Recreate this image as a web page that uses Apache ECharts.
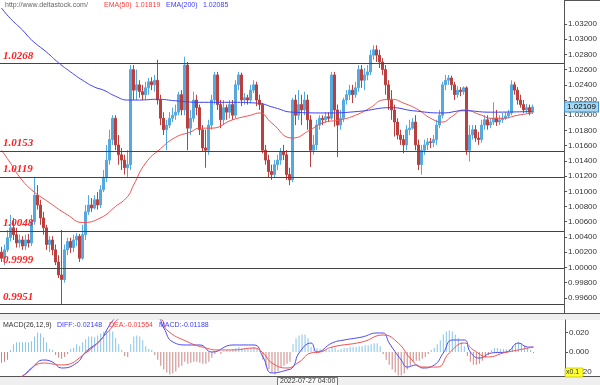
<!DOCTYPE html>
<html>
<head>
<meta charset="utf-8">
<script src="https://cdn.jsdelivr.net/npm/echarts@6/dist/echarts.min.js"></script>
<style>
html,body{margin:0;padding:0;background:#fff;}
#chart{width:600px;height:385px;}
</style>
</head>
<body>
<div id="chart"></div>
<script>
// ---- data ----
const slotCount = 188; // visible bar slots (data + right shift space)
const categories = Array.from({length: slotCount}, (_, i) => String(i));
// [open, close, low, high]
const candles = [
[1.0020,1.0012,1.0007,1.0027],[1.0012,1.0023,1.0003,1.0030],[1.0023,1.0039,1.0020,1.0049],[1.0039,1.0052,1.0034,1.0069],
[1.0052,1.0043,1.0036,1.0065],[1.0043,1.0032,1.0026,1.0052],[1.0032,1.0036,1.0026,1.0043],[1.0036,1.0028,1.0023,1.0041],
[1.0028,1.0036,1.0023,1.0043],[1.0036,1.0032,1.0026,1.0044],
[1.0032,1.0060,1.0028,1.0069],[1.0060,1.0095,1.0056,1.0119],[1.0095,1.0082,1.0076,1.0108],[1.0082,1.0065,1.0056,1.0089],
[1.0065,1.0052,1.0043,1.0073],[1.0052,1.0030,1.0023,1.0056],[1.0030,1.0036,1.0020,1.0041],[1.0036,1.0023,1.0016,1.0041],
[1.0023,1.0007,1.0003,1.0030],[1.0007,0.9990,0.9986,1.0016],
[0.9990,0.9984,0.9951,1.0049],[0.9984,1.0023,0.9980,1.0030],[1.0023,1.0034,1.0016,1.0039],[1.0034,1.0026,1.0019,1.0039],
[1.0026,1.0036,1.0020,1.0043],[1.0036,1.0041,1.0028,1.0045],[1.0041,1.0012,1.0007,1.0044],[1.0012,1.0043,1.0010,1.0056],
[1.0043,1.0073,1.0036,1.0082],[1.0073,1.0082,1.0069,1.0095],
[1.0082,1.0078,1.0073,1.0091],[1.0078,1.0089,1.0076,1.0095],[1.0089,1.0082,1.0076,1.0099],[1.0082,1.0102,1.0078,1.0108],
[1.0102,1.0118,1.0099,1.0128],[1.0118,1.0141,1.0112,1.0161],[1.0141,1.0168,1.0135,1.0181],[1.0168,1.0196,1.0161,1.0200],
[1.0196,1.0161,1.0154,1.0200],[1.0161,1.0148,1.0135,1.0174],
[1.0148,1.0141,1.0128,1.0157],[1.0141,1.0131,1.0122,1.0148],[1.0131,1.0135,1.0119,1.0154],[1.0135,1.0260,1.0128,1.0266],
[1.0260,1.0233,1.0220,1.0266],[1.0233,1.0240,1.0220,1.0260],[1.0240,1.0231,1.0223,1.0246],[1.0231,1.0227,1.0220,1.0240],
[1.0227,1.0236,1.0220,1.0244],[1.0236,1.0244,1.0227,1.0249],
[1.0244,1.0240,1.0233,1.0250],[1.0240,1.0246,1.0231,1.0253],[1.0246,1.0220,1.0214,1.0273],[1.0220,1.0196,1.0187,1.0227],
[1.0196,1.0181,1.0174,1.0204],[1.0181,1.0187,1.0154,1.0194],[1.0187,1.0196,1.0183,1.0204],[1.0196,1.0200,1.0191,1.0210],
[1.0200,1.0204,1.0194,1.0214],[1.0204,1.0227,1.0200,1.0231],
[1.0227,1.0207,1.0200,1.0233],[1.0207,1.0266,1.0200,1.0277],[1.0266,1.0183,1.0154,1.0270],[1.0183,1.0196,1.0174,1.0207],
[1.0196,1.0220,1.0191,1.0231],[1.0220,1.0210,1.0200,1.0227],[1.0210,1.0181,1.0174,1.0214],[1.0181,1.0157,1.0152,1.0187],
[1.0157,1.0154,1.0131,1.0181],[1.0154,1.0187,1.0148,1.0194],
[1.0187,1.0220,1.0181,1.0227],[1.0220,1.0253,1.0214,1.0257],[1.0253,1.0214,1.0207,1.0257],[1.0214,1.0194,1.0183,1.0220],
[1.0194,1.0210,1.0187,1.0220],[1.0210,1.0204,1.0194,1.0214],[1.0204,1.0214,1.0196,1.0220],[1.0214,1.0200,1.0194,1.0220],
[1.0200,1.0240,1.0196,1.0246],[1.0240,1.0253,1.0233,1.0257],
[1.0253,1.0220,1.0212,1.0256],[1.0220,1.0223,1.0214,1.0229],[1.0223,1.0220,1.0214,1.0227],[1.0220,1.0233,1.0216,1.0240],
[1.0233,1.0240,1.0229,1.0246],[1.0240,1.0220,1.0212,1.0244],[1.0220,1.0214,1.0207,1.0227],[1.0214,1.0154,1.0150,1.0216],
[1.0154,1.0141,1.0135,1.0161],[1.0141,1.0126,1.0118,1.0148],
[1.0126,1.0122,1.0115,1.0135],[1.0122,1.0135,1.0118,1.0141],[1.0135,1.0141,1.0128,1.0148],[1.0141,1.0152,1.0135,1.0157],
[1.0152,1.0148,1.0141,1.0161],[1.0148,1.0122,1.0115,1.0154],[1.0122,1.0115,1.0108,1.0131],[1.0115,1.0220,1.0112,1.0223],
[1.0220,1.0200,1.0187,1.0227],[1.0200,1.0214,1.0194,1.0233],
[1.0214,1.0207,1.0187,1.0227],[1.0207,1.0220,1.0200,1.0231],[1.0220,1.0194,1.0181,1.0227],[1.0194,1.0154,1.0132,1.0200],
[1.0154,1.0161,1.0148,1.0174],[1.0161,1.0187,1.0154,1.0194],[1.0187,1.0196,1.0181,1.0200],[1.0196,1.0194,1.0187,1.0200],
[1.0194,1.0198,1.0190,1.0204],[1.0198,1.0196,1.0191,1.0204],
[1.0196,1.0253,1.0194,1.0257],[1.0253,1.0207,1.0185,1.0257],[1.0207,1.0187,1.0145,1.0214],[1.0187,1.0196,1.0181,1.0207],
[1.0196,1.0220,1.0191,1.0223],[1.0220,1.0227,1.0214,1.0233],[1.0227,1.0233,1.0220,1.0240],[1.0233,1.0227,1.0216,1.0240],
[1.0227,1.0236,1.0223,1.0244],[1.0236,1.0260,1.0231,1.0266],
[1.0260,1.0246,1.0236,1.0266],[1.0246,1.0253,1.0233,1.0262],[1.0253,1.0257,1.0246,1.0266],[1.0257,1.0279,1.0253,1.0286],
[1.0279,1.0286,1.0273,1.0292],[1.0286,1.0279,1.0270,1.0292],[1.0279,1.0270,1.0262,1.0286],[1.0270,1.0260,1.0253,1.0275],
[1.0260,1.0240,1.0227,1.0266],[1.0240,1.0220,1.0207,1.0246],
[1.0220,1.0207,1.0194,1.0233],[1.0207,1.0191,1.0172,1.0214],[1.0191,1.0174,1.0168,1.0196],[1.0174,1.0168,1.0161,1.0181],
[1.0168,1.0161,1.0150,1.0174],[1.0161,1.0181,1.0154,1.0187],[1.0181,1.0183,1.0174,1.0194],[1.0183,1.0191,1.0181,1.0196],
[1.0191,1.0161,1.0154,1.0200],[1.0161,1.0135,1.0128,1.0168],
[1.0135,1.0154,1.0122,1.0161],[1.0154,1.0161,1.0148,1.0168],[1.0161,1.0165,1.0154,1.0170],[1.0165,1.0164,1.0157,1.0170],
[1.0164,1.0168,1.0158,1.0174],[1.0168,1.0187,1.0161,1.0194],[1.0187,1.0200,1.0183,1.0207],[1.0200,1.0240,1.0196,1.0244],
[1.0240,1.0246,1.0233,1.0253],[1.0246,1.0249,1.0240,1.0253],
[1.0249,1.0240,1.0233,1.0252],[1.0240,1.0227,1.0220,1.0244],[1.0227,1.0233,1.0223,1.0238],[1.0233,1.0231,1.0225,1.0237],
[1.0231,1.0236,1.0227,1.0238],[1.0236,1.0154,1.0148,1.0238],[1.0154,1.0174,1.0139,1.0187],[1.0174,1.0181,1.0168,1.0187],
[1.0181,1.0170,1.0165,1.0187],[1.0170,1.0168,1.0161,1.0178],
[1.0168,1.0187,1.0164,1.0194],[1.0187,1.0194,1.0181,1.0200],[1.0194,1.0187,1.0181,1.0200],[1.0187,1.0191,1.0183,1.0196],
[1.0191,1.0196,1.0187,1.0217],[1.0196,1.0191,1.0186,1.0207],[1.0191,1.0194,1.0187,1.0200],[1.0194,1.0196,1.0190,1.0203],
[1.0196,1.0199,1.0194,1.0204],[1.0199,1.0203,1.0196,1.0207],
[1.0203,1.0240,1.0200,1.0246],[1.0240,1.0233,1.0227,1.0244],[1.0233,1.0220,1.0214,1.0237],[1.0220,1.0214,1.0210,1.0227],
[1.0214,1.0207,1.0203,1.0220],[1.0207,1.0210,1.0203,1.0215],[1.0210,1.0204,1.0200,1.0214],[1.0204,1.02109,1.0202,1.0214]
];
// [bar index, value]
const ema50 = [[0,1.0154],[3,1.0137],[6,1.0119],[10,1.0102],[16,1.0085],[22,1.0069],[27,1.0059],[33,1.0065],[38,1.0080],
[42,1.0093],[44,1.0108],[48,1.0137],[53,1.0156],[58,1.0171],[63,1.0178],[66,1.0183],[70,1.0183],[77,1.0194],[83,1.0200],
[86,1.0203],[90,1.0190],[97,1.0170],[103,1.0181],[107,1.0190],[113,1.0194],[118,1.0200],[123,1.0210],[127,1.0220],
[130,1.0221],[134,1.0216],[139,1.0207],[143,1.0196],[147,1.0191],[150,1.0198],[154,1.0207],[160,1.0200],[163,1.0196],
[167,1.0196],[172,1.0200],[177,1.0203]];
const ema200 = [[0,1.0341],[3,1.0327],[7,1.0312],[10,1.0299],[15,1.0283],[19,1.0269],[23,1.0257],[27,1.0246],[31,1.0237],
[34,1.0233],[38,1.0225],[42,1.0220],[46,1.0220],[52,1.0221],[58,1.0219],[66,1.0217],[76,1.0217],[85,1.0216],[91,1.0210],
[97,1.0204],[108,1.0203],[119,1.0205],[130,1.0210],[137,1.0206],[147,1.0203],[154,1.0206],[163,1.0204],[177,1.0205]];
const macdHist = [
-0.011,-0.010,-0.008,0.002,0.008,0.010,0.010,0.010,0.010,0.010,
0.011,0.016,0.020,0.019,0.015,0.010,0.003,0.002,-0.003,-0.006,
-0.007,-0.005,-0.002,0.003,0.004,0.008,0.006,0.010,0.013,0.016,
0.016,0.015,0.017,0.019,0.021,0.022,0.022,0.021,0.014,0.008,
0.002,-0.004,-0.005,0.008,0.016,0.017,0.016,0.012,0.006,0.003,
0.002,-0.003,-0.008,-0.014,-0.018,-0.021,-0.023,-0.022,-0.020,-0.016,
-0.014,-0.010,-0.012,-0.011,-0.010,-0.010,-0.011,-0.012,-0.012,-0.010,
-0.006,-0.002,0.001,-0.002,0.001,0.002,0.002,0.003,0.004,0.005,
0.004,0.004,0.003,0.004,0.005,0.003,0.001,-0.008,-0.014,-0.018,
-0.021,-0.023,-0.020,-0.016,-0.014,-0.012,-0.010,0.008,0.014,0.017,
0.018,0.018,0.014,0.005,0.003,0.004,0.003,0.002,0.002,0.002,
0.005,0.004,0.002,0.003,0.004,0.004,0.005,0.005,0.005,0.006,
0.006,0.007,0.007,0.008,0.009,0.009,0.006,-0.002,-0.008,-0.013,
-0.018,-0.021,-0.024,-0.024,-0.022,-0.018,-0.014,-0.010,-0.009,-0.009,
-0.007,-0.005,-0.002,0.002,0.004,0.008,0.012,0.018,0.021,0.022,
0.021,0.018,0.014,0.010,0.006,-0.004,-0.010,-0.013,-0.013,-0.012,
-0.009,-0.006,-0.003,0.002,0.004,0.004,0.003,0.003,0.003,0.003,
0.006,0.009,0.010,0.009,0.007,0.004,0.002,-0.001];
const diffLine = [[3,-0.031],[7,-0.0246],[10,-0.0164],[14,-0.0082],[17,-0.0103],[20,-0.0164],[25,-0.0113],[28,0.0],
[33,0.0123],[35,0.0226],[37,0.032],[40,0.040],[47,0.042],[52,0.036],[54,0.0246],[57,0.0103],[62,0.0072],[66,0.0072],
[70,0.0],[77,0.0072],[84,0.0072],[87,-0.0051],[90,-0.0215],[95,-0.0185],[97,-0.0154],[99,-0.0010],[103,0.0092],
[105,0.0],[110,0.0092],[114,0.0123],[120,0.0154],[125,0.0195],[127,0.0195],[129,0.0092],[133,-0.0082],[135,-0.0154],
[138,-0.0133],[140,-0.0164],[144,-0.0133],[147,-0.0010],[150,0.0123],[154,0.0123],[156,0.0],[159,-0.0062],
[163,-0.0010],[168,0.0],[172,0.0092],[175,0.0051],[177,0.0051]];
const deaLine = [[3,-0.030],[7,-0.0246],[14,-0.0113],[20,-0.0133],[28,-0.0010],[36,0.0226],[39,0.034],[46,0.041],
[53,0.034],[55,0.0226],[62,0.0103],[68,0.0041],[72,0.0021],[77,0.0021],[84,0.0041],[87,-0.0010],[90,-0.0113],[95,-0.0164],
[99,-0.0103],[103,-0.0010],[106,0.0],[110,0.0051],[120,0.0103],[127,0.0174],[132,0.0092],[136,-0.0062],[140,-0.0154],
[145,-0.0154],[149,-0.0010],[154,0.0092],[157,0.0021],[162,-0.0051],[167,-0.0010],[172,0.0021],[177,0.0051]];
const levels = [1.0268, 1.0153, 1.0119, 1.0048, 0.9999, 0.9951];
const lastPrice = 1.02109;
const priceTicks = [0.996,0.998,1.000,1.002,1.004,1.006,1.008,1.010,1.012,1.014,1.016,1.018,1.020,1.022,1.024,1.026,1.028,1.030,1.032];
const macdTicks = [-0.02, 0, 0.02];
const timeLabel = '2022-07-27 04:00';

// ---- chart ----
const UP = '#55a9de', DOWN = '#b9403f';
const SMALL = '7px "Liberation Sans", Arial, sans-serif';
const chart = echarts.init(document.getElementById('chart'), null, {renderer: 'canvas'});
const hiddenX = (g) => ({type: 'category', data: categories, gridIndex: g, boundaryGap: true,
  axisLine: {show: false}, axisTick: {show: false}, axisLabel: {show: false}, splitLine: {show: false}});
const axisFont = {fontSize: 8, color: '#333', fontFamily: 'Liberation Sans, Arial, sans-serif', margin: 4};

const levelLabel = {position: 'insideStartTop', distance: [3, 2], color: '#ff2020', fontStyle: 'italic',
  fontWeight: 'bold', fontFamily: 'Liberation Serif, serif', fontSize: 11};

const option = {
  animation: false,
  backgroundColor: '#fff',
  grid: [
    {left: 0, top: 0, width: 565, height: 313},
    {left: 0, top: 320, width: 565, height: 56}
  ],
  xAxis: [hiddenX(0), hiddenX(1)],
  yAxis: [
    {type: 'value', gridIndex: 0, position: 'right', min: 0.994, max: 1.03515,
     axisLine: {show: true, lineStyle: {color: '#555'}},
     axisTick: {show: true, length: 3, customValues: priceTicks, lineStyle: {color: '#555'}},
     axisLabel: Object.assign({customValues: priceTicks, formatter: v => v.toFixed(5)}, axisFont),
     splitLine: {show: false}},
    {type: 'value', gridIndex: 1, position: 'right', min: -0.0246, max: 0.0328,
     axisLine: {show: true, lineStyle: {color: '#555'}},
     axisTick: {show: true, length: 3, customValues: macdTicks, lineStyle: {color: '#555'}},
     axisLabel: Object.assign({customValues: macdTicks, formatter: v => v.toFixed(3)}, axisFont),
     splitLine: {show: false}}
  ],
  series: [
    {type: 'candlestick', xAxisIndex: 0, yAxisIndex: 0, data: candles, barWidth: 2,
     itemStyle: {color: UP, color0: DOWN, borderColor: UP, borderColor0: DOWN, borderWidth: 1},
     markLine: {
       silent: true, symbol: ['none', 'none'], animation: false, precision: 5,
       lineStyle: {color: '#444', type: 'solid', width: 1},
       label: levelLabel,
       data: levels.map(v => ({yAxis: v, label: {formatter: v.toFixed(4)}})).concat([{
         yAxis: lastPrice, lineStyle: {color: 'rgba(0,0,0,0)', width: 1},
         label: {position: 'end', distance: 1, formatter: lastPrice.toFixed(5), fontSize: 8, color: '#000',
           fontStyle: 'normal', fontWeight: 'normal', fontFamily: 'Liberation Sans, Arial, sans-serif',
           backgroundColor: '#a5d8f4', borderColor: '#3f8fc4', borderWidth: 1, padding: [1, 2, 0, 2]}
       }])
     }},
    {type: 'line', name: 'EMA(50)', xAxisIndex: 0, yAxisIndex: 0, data: ema50, smooth: true, showSymbol: false,
     lineStyle: {color: '#f25050', width: 1}},
    {type: 'line', name: 'EMA(200)', xAxisIndex: 0, yAxisIndex: 0, data: ema200, smooth: true, showSymbol: false,
     lineStyle: {color: '#4040f0', width: 1}},
    {type: 'bar', xAxisIndex: 1, yAxisIndex: 1, barWidth: 1,
     data: macdHist.map(v => ({value: v, itemStyle: {color: v >= 0 ? '#86c4e6' : '#c98581'}}))},
    {type: 'line', xAxisIndex: 1, yAxisIndex: 1, data: diffLine, smooth: true, showSymbol: false, clip: true,
     lineStyle: {color: '#4a4af5', width: 1}},
    {type: 'line', xAxisIndex: 1, yAxisIndex: 1, data: deaLine, smooth: true, showSymbol: false, clip: true,
     lineStyle: {color: '#f55050', width: 1}}
  ],
  graphic: [
    {type: 'line', shape: {x1: 565, y1: 0.5, x2: 600, y2: 0.5}, style: {stroke: '#555', lineWidth: 1}},
    {type: 'rect', shape: {x: 0, y: 313, width: 600, height: 7}, style: {fill: '#efefef', stroke: null}},
    {type: 'line', shape: {x1: 0, y1: 313.5, x2: 600, y2: 313.5}, style: {stroke: '#555', lineWidth: 1}},
    {type: 'rect', shape: {x: 0, y: 376, width: 600, height: 9}, style: {fill: '#efefef', stroke: null}},
    {type: 'line', shape: {x1: 0, y1: 376.5, x2: 600, y2: 376.5}, style: {stroke: '#555', lineWidth: 1}},
    {type: 'rect', shape: {x: 277.5, y: 377.5, width: 60, height: 9}, style: {fill: '#f7f7f7', stroke: '#3a9a5a', lineWidth: 1}},
    {type: 'text', x: 280, y: 378, style: {text: timeLabel, fill: '#333', font: SMALL}},
    {type: 'rect', z: 100, shape: {x: 565, y: 368, width: 18, height: 9}, style: {fill: '#ffff33', stroke: '#999900', lineWidth: 0.5}},
    {type: 'text', z: 101, x: 566, y: 369, style: {text: 'x0.1', fill: '#333', font: SMALL}},
    {type: 'text', x: 5, y: 2, style: {text: 'http://www.deltastock.com/', fill: '#666', font: SMALL}},
    {type: 'text', x: 104, y: 2, style: {text: 'EMA(50)', fill: '#ff3a3a', font: SMALL}},
    {type: 'text', x: 135, y: 2, style: {text: '1.01819', fill: '#ff3a3a', font: SMALL}},
    {type: 'text', x: 166, y: 2, style: {text: 'EMA(200)', fill: '#3c3cff', font: SMALL}},
    {type: 'text', x: 203, y: 2, style: {text: '1.02085', fill: '#3c3cff', font: SMALL}},
    {type: 'text', x: 3, y: 322, z: 50, style: {text: 'MACD(26,12,9)', fill: '#333', font: SMALL}},
    {type: 'text', x: 57, y: 322, z: 50, style: {text: 'DIFF:-0.02148', fill: '#3c3cff', font: SMALL}},
    {type: 'text', x: 109, y: 322, z: 50, style: {text: 'DEA:-0.01554', fill: '#ff3a3a', font: SMALL}},
    {type: 'text', x: 159, y: 322, z: 50, style: {text: 'MACD:-0.01188', fill: '#3c3cff', font: SMALL}}
  ]
};
chart.setOption(option);
</script>
</body>
</html>
